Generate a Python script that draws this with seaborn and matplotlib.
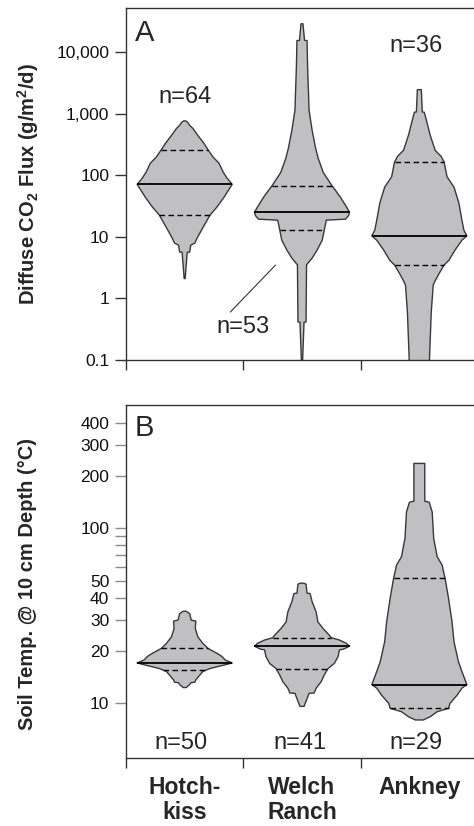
import numpy as np
import matplotlib
matplotlib.use("Agg")
import matplotlib.pyplot as plt
from matplotlib.ticker import NullLocator, FixedLocator
import seaborn as sns

# ---------------- data ----------------
sites = ["Hotch-\nkiss", "Welch\nRanch", "Ankney"]

# Panel A: diffuse CO2 flux (g/m2/d) bean profiles: value levels and relative density
flux_hot_val = [2.1, 5.6, 5.65, 7.3, 7.9, 10.0, 14.5, 22.4, 30.5, 44, 71, 89, 113, 156, 197, 260, 329, 443, 576, 644, 720, 760]
flux_hot_den = [0.5, 2.5, 5, 6, 10, 13, 18.5, 25, 32, 39, 47, 42, 38, 34, 28, 23, 19, 13, 8, 5, 3, 1]
flux_wel_val = [0.08, 0.41, 0.415, 3.5, 4.5, 6.1, 8.8, 12.8, 18.6, 19.3, 22, 25, 32.5, 43.8, 57, 66, 83, 111, 188, 273, 535, 1128, 3450, 6040, 15300, 15400, 28600]
flux_wel_den = [0.4, 2, 4, 4.5, 10, 15, 20, 22, 24, 43, 46, 47, 43, 38, 33, 30, 26, 21, 16, 13.5, 10, 7, 6, 5.5, 5, 2.5, 1]
flux_ank_val = [0.08, 0.58, 1.64, 1.86, 2.54, 3.47, 4.18, 6.07, 8.8, 10.35, 12.8, 18.6, 35, 64, 94, 164, 202, 253, 443, 686, 1050, 1060, 2440]
flux_ank_den = [10, 12, 14, 15.5, 20, 25, 30, 36, 43, 48, 45, 43, 40, 35, 28, 25, 22, 16, 11, 8, 5, 3, 2]
flux_median = [71, 25, 10.35]
flux_q1 = [22.4, 12.8, 3.47]
flux_q3 = [260, 66, 164]
flux_n = [64, 53, 36]

# Panel B: soil temperature at 10 cm depth (deg C)
temp_hot_val = [12.3, 12.8, 13.1, 13.2, 13.6, 14.5, 15.2, 15.8, 16.6, 17.0, 17.7, 18.5, 19.3, 20.6, 22.0, 24.0, 26.8, 29.5, 29.9, 32.5, 33.6]
temp_hot_den = [1.5, 5, 6, 10, 11, 15, 18, 25, 40, 47, 40, 37, 32, 23, 18, 13, 10.5, 11, 6.5, 5, 1.5]
temp_wel_val = [9.6, 11.4, 11.45, 12.2, 13.3, 14.5, 15.8, 16.9, 18.5, 20.2, 20.4, 21.2, 22.0, 23.0, 23.7, 24.5, 26.8, 29.2, 33.3, 38.1, 42.4, 42.6, 48.0, 48.6]
temp_wel_den = [2, 7, 12, 14, 19, 22, 25.7, 32, 35.7, 37, 41, 47, 44, 37, 29, 27, 20.7, 15.7, 14, 10, 8, 5, 4, 1.5]
temp_ank_val = [8.03, 8.38, 8.95, 9.36, 10.0, 11.1, 12.2, 12.8, 15.2, 17.3, 22.5, 29.3, 39.8, 51.8, 56.5, 61.7, 68.9, 87.7, 124, 141, 143, 235]
temp_ank_den = [4, 11, 18, 29.5, 31, 38, 43, 48, 43, 39.5, 35, 33, 29.5, 26, 24.5, 23, 18, 14.5, 13, 10, 5.5, 5.5]
temp_median = [17.0, 21.2, 12.8]
temp_q1 = [15.5, 15.8, 9.36]
temp_q3 = [20.6, 23.7, 51.8]
temp_n = [50, 41, 29]

flux_ticks = [0.1, 1, 10, 100, 1000, 10000]
flux_ticklabels = ["0.1", "1", "10", "100", "1,000", "10,000"]
temp_ticks = [10, 20, 30, 40, 50, 100, 200, 300, 400]
temp_ticklabels = ["10", "20", "30", "40", "50", "100", "200", "300", "400"]
temp_minor = [60, 70, 80, 90]

# ---------------- style ----------------
sns.set_style("ticks")
plt.rcParams["font.family"] = ["Liberation Sans", "DejaVu Sans"]
plt.rcParams["mathtext.fontset"] = "custom"
plt.rcParams["mathtext.rm"] = "Liberation Sans"
plt.rcParams["mathtext.bf"] = "Liberation Sans:bold"

FILL = "#c0c0c2"
EDGE = "#383838"
SPINE = "#333333"
HALF = 0.405

fig = plt.figure(figsize=(4.74, 8.26), dpi=100)
axA = fig.add_axes([126 / 474, 1 - 360 / 826, 352 / 474, 352 / 826])
axB = fig.add_axes([126 / 474, 1 - 757.7 / 826, 352 / 474, 352.7 / 826])


def draw_bean(ax, pos, vals, dens, med, q1, q3):
    v = np.asarray(vals, float)
    d = np.asarray(dens, float)
    hw = d / d.max() * HALF
    xs = np.concatenate([pos + hw, (pos - hw)[::-1]])
    ys = np.concatenate([v, v[::-1]])
    ax.fill(xs, ys, facecolor=FILL, edgecolor=EDGE, lw=1.0, joinstyle="round", zorder=2)
    lv = np.log10(v)
    for q, ls, lw in [(med, "-", 1.3), (q1, (0, (4, 2.5)), 1.0), (q3, (0, (4, 2.5)), 1.0)]:
        w = np.interp(np.log10(q), lv, hw)
        ax.plot([pos - w, pos + w], [q, q], color="black", ls=ls, lw=lw, zorder=3,
                solid_capstyle="butt")


def style_axis(ax, tickcolor):
    ax.set_yscale("log")
    ax.set_xlim(0, 3)
    ax.spines["right"].set_visible(False)
    for s in ["left", "top", "bottom"]:
        ax.spines[s].set_color(SPINE)
        ax.spines[s].set_linewidth(1.0)
    ax.set_xticks([0, 1, 2, 3])
    ax.set_xticklabels([])
    ax.tick_params(axis="x", which="major", length=7.5, width=1.0, color=SPINE, direction="out")
    ax.tick_params(axis="y", which="both", length=8, width=1.0, color=tickcolor,
                   direction="out", labelsize=12.5, pad=4, labelcolor="#111111")


# Panel A
flux_profiles = [(flux_hot_val, flux_hot_den), (flux_wel_val, flux_wel_den), (flux_ank_val, flux_ank_den)]
for i, (vv, dd) in enumerate(flux_profiles):
    draw_bean(axA, i + 0.5, vv, dd, flux_median[i], flux_q1[i], flux_q3[i])
style_axis(axA, SPINE)
axA.set_ylim(0.1, 10 ** 4.713)
axA.yaxis.set_major_locator(FixedLocator(flux_ticks))
axA.set_yticklabels(flux_ticklabels)
axA.yaxis.set_minor_locator(NullLocator())

NFS = 17
axA.text(0.025, 0.93, "A", transform=axA.transAxes, fontsize=21, ha="left", va="center")
axA.text(0.504, 1830, f"n={flux_n[0]}", fontsize=NFS, ha="center", va="center")
axA.text(2.47, 12700, f"n={flux_n[2]}", fontsize=NFS, ha="center", va="center")
axA.text(1.0, 0.343, f"n={flux_n[1]}", fontsize=NFS, ha="center", va="center")
axA.plot([0.889, 1.274], [0.6, 3.47], color="#333333", lw=0.8)

# Panel B
temp_profiles = [(temp_hot_val, temp_hot_den), (temp_wel_val, temp_wel_den), (temp_ank_val, temp_ank_den)]
for i, (vv, dd) in enumerate(temp_profiles):
    draw_bean(axB, i + 0.5, vv, dd, temp_median[i], temp_q1[i], temp_q3[i])
style_axis(axB, "#8c8c8c")
axB.set_ylim(10 ** 0.689, 10 ** 2.705)
axB.yaxis.set_major_locator(FixedLocator(temp_ticks))
axB.set_yticklabels(temp_ticklabels)
axB.yaxis.set_minor_locator(FixedLocator(temp_minor))
axB.yaxis.set_minor_formatter(plt.NullFormatter())

axB.text(0.025, 0.936, "B", transform=axB.transAxes, fontsize=21, ha="left", va="center")
for i, n in enumerate(temp_n):
    axB.text([0.47, 1.487, 2.47][i], 5.93, f"n={n}", fontsize=NFS, ha="center", va="center")

axB.set_xticks([0.5, 1.5, 2.5], minor=True)
axB.set_xticklabels(sites, minor=True, fontsize=16.5, fontweight="bold", linespacing=1.12)
axB.tick_params(axis="x", which="minor", length=0, pad=13)

fig.text(28 / 474, 1 - 184 / 826, r"Diffuse CO$_\mathbf{2}$ Flux (g/m$^\mathbf{2}$/d)",
         rotation=90, ha="center", va="center", fontsize=14.5, fontweight="bold")
fig.text(28 / 474, 1 - 584 / 826, "Soil Temp. @ 10 cm Depth (°C)",
         rotation=90, ha="center", va="center", fontsize=14.5, fontweight="bold")

fig.savefig("out.png", dpi=100)
